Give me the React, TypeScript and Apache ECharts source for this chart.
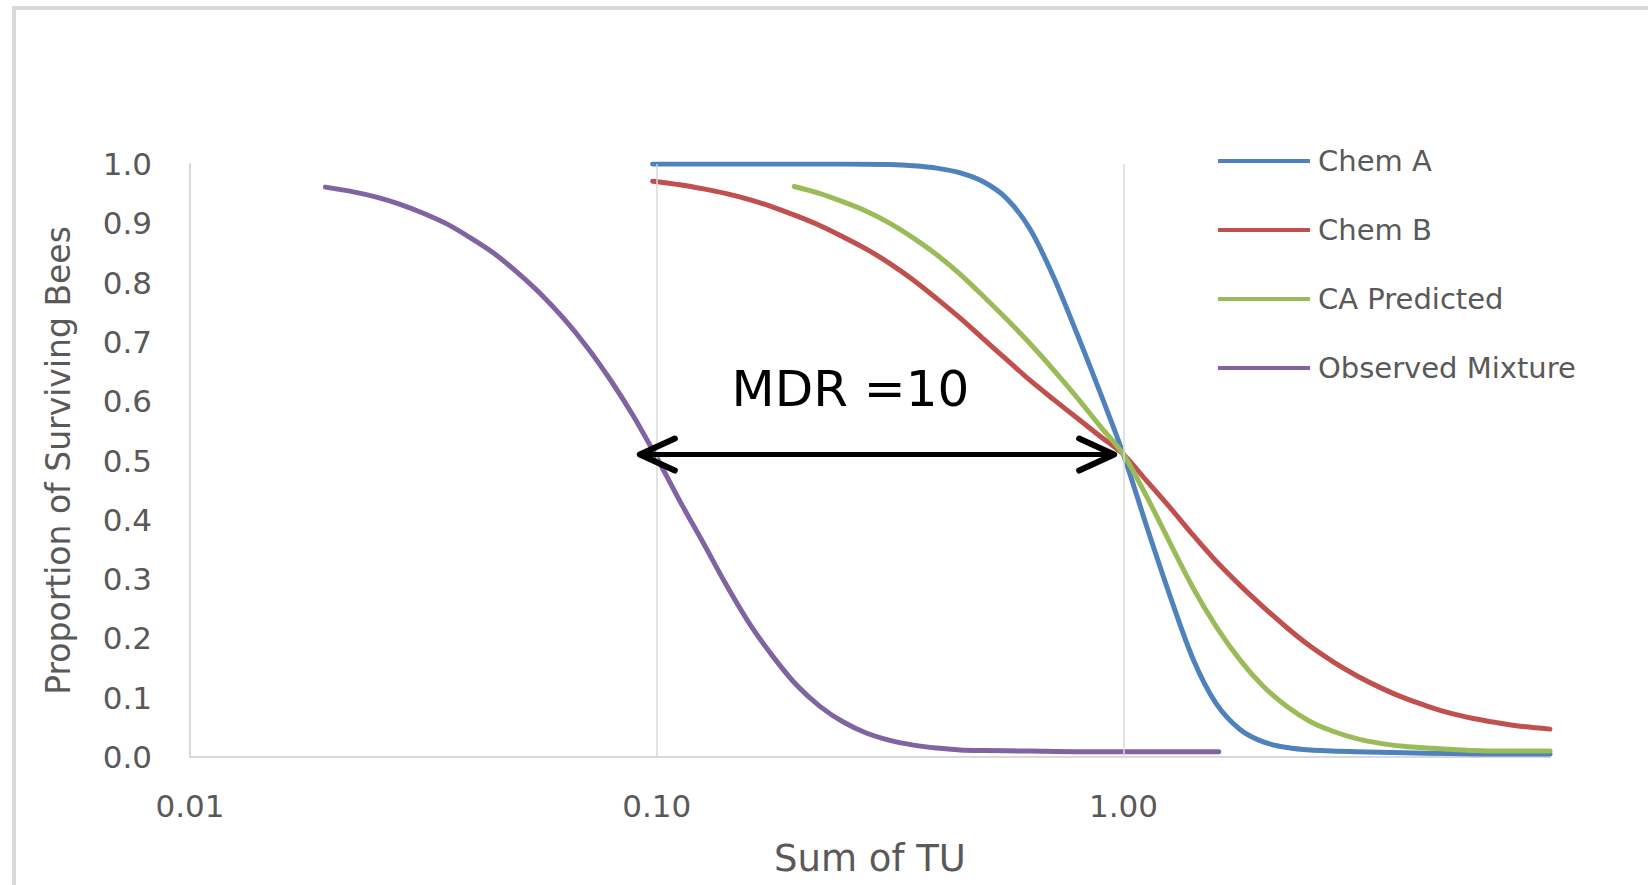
import React, { useEffect, useRef } from "react";
import * as echarts from "echarts";

// ---- data (x = Sum of TU, y = proportion of surviving bees) ----
const SERIES_NAMES = ["Chem A", "Chem B", "CA Predicted", "Observed Mixture"];
const SERIES_COLORS = ["#4F81BD", "#C0504D", "#9BBB59", "#8064A2"];

const chemA: [number, number][] = [
  [0.098, 1.0], [0.126, 1.0], [0.158, 1.0], [0.2, 1.0], [0.251, 1.0],
  [0.316, 0.999], [0.355, 0.997], [0.398, 0.993], [0.447, 0.985], [0.501, 0.97],
  [0.562, 0.942], [0.631, 0.89], [0.708, 0.81], [0.794, 0.715], [0.891, 0.615],
  [1.0, 0.51], [1.12, 0.39], [1.26, 0.27], [1.41, 0.165], [1.58, 0.09],
  [1.78, 0.046], [2.0, 0.025], [2.24, 0.016], [2.51, 0.012], [3.16, 0.009],
  [3.98, 0.007], [5.01, 0.006], [6.31, 0.005], [8.2, 0.005],
];

const chemB: [number, number][] = [
  [0.098, 0.971], [0.112, 0.965], [0.126, 0.958], [0.141, 0.95], [0.158, 0.94],
  [0.178, 0.927], [0.2, 0.912], [0.224, 0.896], [0.251, 0.877], [0.282, 0.856],
  [0.316, 0.832], [0.355, 0.804], [0.398, 0.773], [0.447, 0.74], [0.501, 0.705],
  [0.562, 0.67], [0.631, 0.635], [0.708, 0.603], [0.794, 0.572], [0.891, 0.541],
  [1.0, 0.51], [1.12, 0.466], [1.26, 0.42], [1.41, 0.374], [1.58, 0.33],
  [1.78, 0.289], [2.0, 0.252], [2.24, 0.218], [2.51, 0.187], [2.82, 0.16],
  [3.16, 0.137], [3.55, 0.117], [3.98, 0.1], [4.47, 0.086], [5.01, 0.074],
  [5.62, 0.065], [6.31, 0.058], [7.08, 0.052], [8.2, 0.047],
];

const caPredicted: [number, number][] = [
  [0.197, 0.962], [0.224, 0.95], [0.251, 0.936], [0.282, 0.92], [0.316, 0.9],
  [0.355, 0.875], [0.398, 0.847], [0.447, 0.814], [0.501, 0.777], [0.562, 0.738],
  [0.631, 0.697], [0.708, 0.653], [0.794, 0.607], [0.891, 0.558], [1.0, 0.51],
  [1.12, 0.44], [1.26, 0.36], [1.41, 0.285], [1.58, 0.22], [1.78, 0.163],
  [2.0, 0.118], [2.24, 0.085], [2.51, 0.06], [2.82, 0.043], [3.16, 0.031],
  [3.55, 0.023], [3.98, 0.018], [4.47, 0.015], [5.01, 0.013], [5.62, 0.011],
  [6.31, 0.01], [8.2, 0.01],
];

const observedMixture: [number, number][] = [
  [0.0195, 0.961], [0.0224, 0.953], [0.0251, 0.944], [0.0282, 0.932],
  [0.0316, 0.917], [0.0355, 0.899], [0.0398, 0.876], [0.0447, 0.85],
  [0.0501, 0.818], [0.0562, 0.782], [0.0631, 0.74], [0.0708, 0.692],
  [0.0794, 0.637], [0.0891, 0.575], [0.1, 0.505], [0.112, 0.432],
  [0.126, 0.36], [0.141, 0.29], [0.158, 0.225], [0.178, 0.168], [0.2, 0.12],
  [0.224, 0.085], [0.251, 0.059], [0.282, 0.04], [0.316, 0.028], [0.355, 0.02],
  [0.398, 0.015], [0.447, 0.012], [0.501, 0.011], [0.631, 0.01], [0.794, 0.009],
  [1.0, 0.009], [1.26, 0.009], [1.6, 0.009],
];

const SERIES_DATA = [chemA, chemB, caPredicted, observedMixture];

const X_MIN = 0.01;
const X_MAX = 8.2;
const GRID_LINES_X = [0.1, 1];

// annotation (data coordinates)
const MDR_TEXT = "MDR =10";
const ARROW_FROM_X = 0.092;
const ARROW_TO_X = 0.955;
const ARROW_Y = 0.51;
const MDR_TEXT_POS: [number, number] = [0.26, 0.62];

const FONT = "'DejaVu Sans', Verdana, sans-serif";
const LABEL_COLOR = "#595959";
const AXIS_COLOR = "#d9d9d9";

export default function App() {
  const ref = useRef<HTMLDivElement>(null);

  useEffect(() => {
    if (!ref.current) return;
    const chart = echarts.init(ref.current, undefined, { renderer: "svg" });

    const series: any[] = [
      {
        name: "__grid",
        type: "line",
        data: [],
        z: 1,
        silent: true,
        markLine: {
          silent: true,
          symbol: ["none", "none"],
          label: { show: false },
          lineStyle: { color: AXIS_COLOR, width: 1.5, type: "solid" },
          data: GRID_LINES_X.map((x) => ({ xAxis: x })),
        },
      },
      ...SERIES_NAMES.map((name, i) => ({
        name,
        type: "line",
        data: SERIES_DATA[i],
        smooth: 0.3,
        symbol: "none",
        showSymbol: false,
        z: 3,
        lineStyle: { color: SERIES_COLORS[i], width: 5, cap: "round", join: "round" },
        itemStyle: { color: SERIES_COLORS[i] },
      })),
    ];

    chart.setOption({
      animation: false,
      backgroundColor: "#ffffff",
      grid: { left: 190, top: 164, width: 1360, height: 593, containLabel: false },
      legend: {
        orient: "vertical",
        left: 1213,
        top: 141,
        icon: "rect",
        itemWidth: 92,
        itemHeight: 4,
        itemGap: 39,
        data: SERIES_NAMES,
        textStyle: {
          fontFamily: FONT,
          fontSize: 29,
          lineHeight: 30,
          color: LABEL_COLOR,
          padding: [0, 0, 0, 3],
        },
      },
      xAxis: {
        type: "log",
        logBase: 10,
        min: X_MIN,
        max: X_MAX,
        name: "Sum of TU",
        nameLocation: "middle",
        nameGap: 83,
        nameTextStyle: { fontFamily: FONT, fontSize: 37, color: LABEL_COLOR },
        axisLine: { show: true, lineStyle: { color: AXIS_COLOR, width: 2 } },
        axisTick: { show: false },
        splitLine: { show: false },
        axisLabel: {
          showMaxLabel: false,
          margin: 33,
          fontFamily: FONT,
          fontSize: 31,
          color: LABEL_COLOR,
          formatter: (v: number) => v.toFixed(2),
        },
      },
      yAxis: {
        type: "value",
        min: 0,
        max: 1,
        interval: 0.1,
        name: "Proportion of Surviving Bees",
        nameLocation: "middle",
        nameGap: 115,
        nameTextStyle: { fontFamily: FONT, fontSize: 33, color: LABEL_COLOR },
        axisLine: { show: true, lineStyle: { color: AXIS_COLOR, width: 2 } },
        axisTick: { show: false },
        splitLine: { show: false },
        axisLabel: {
          margin: 38,
          fontFamily: FONT,
          fontSize: 31,
          color: LABEL_COLOR,
          formatter: (v: number) => v.toFixed(1),
        },
      },
      series,
    });

    const p1 = chart.convertToPixel({ gridIndex: 0 }, [ARROW_FROM_X, ARROW_Y]) as number[];
    const p2 = chart.convertToPixel({ gridIndex: 0 }, [ARROW_TO_X, ARROW_Y]) as number[];
    const pt = chart.convertToPixel({ gridIndex: 0 }, MDR_TEXT_POS) as number[];
    const headL = 35;
    const headH = 16;

    chart.setOption({
      graphic: [
        {
          type: "rect",
          silent: true,
          z: 0,
          shape: { x: 14, y: 8, width: 1800, height: 1000 },
          style: { fill: "none", stroke: "#d9d9d9", lineWidth: 4 },
        },
        {
          type: "line",
          z: 10,
          shape: { x1: p1[0] + 2, y1: p1[1], x2: p2[0] - 2, y2: p2[1] },
          style: { stroke: "#000", lineWidth: 5 },
        },
        {
          type: "polyline",
          z: 10,
          shape: {
            points: [
              [p1[0] + headL, p1[1] - headH],
              [p1[0], p1[1]],
              [p1[0] + headL, p1[1] + headH],
            ],
          },
          style: { stroke: "#000", lineWidth: 6, fill: "none", lineJoin: "round", lineCap: "round" },
        },
        {
          type: "polyline",
          z: 10,
          shape: {
            points: [
              [p2[0] - headL, p2[1] - headH],
              [p2[0], p2[1]],
              [p2[0] - headL, p2[1] + headH],
            ],
          },
          style: { stroke: "#000", lineWidth: 6, fill: "none", lineJoin: "round", lineCap: "round" },
        },
        {
          type: "text",
          z: 10,
          x: pt[0],
          y: pt[1],
          style: {
            text: MDR_TEXT,
            fontFamily: FONT,
            fontSize: 50,
            fill: "#000",
            align: "center",
            verticalAlign: "middle",
          },
        },
      ],
    });

    return () => chart.dispose();
  }, []);

  return (
    <div
      ref={ref}
      style={{ position: "absolute", left: 0, top: 0, width: 1648, height: 885, background: "#fff" }}
    />
  );
}
